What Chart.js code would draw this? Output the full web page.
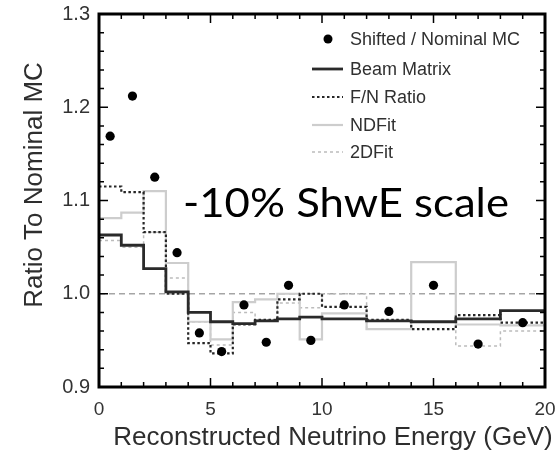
<!DOCTYPE html>
<html><head><meta charset="utf-8">
<script src="https://cdn.jsdelivr.net/npm/chart.js@4/dist/chart.umd.min.js"></script>
<style>html,body{margin:0;padding:0;background:#fff}#wrap{width:560px;height:452px}</style>
</head><body><div id="wrap"><canvas id="c" width="560" height="452"></canvas></div>
<script>
// ---- data ----
const binEdges = [0,1,2,3,4,5,6,7,8,9,10,12,14,16,18,20];
const pointEnergies = [0.5,1.5,2.5,3.5,4.5,5.5,6.5,7.5,8.5,9.5,11,13,15,17,19];
const shiftedOverNominal = [1.169,1.212,1.125,1.044,0.958,0.938,0.988,0.948,1.009,0.950,0.988,0.981,1.009,0.946,0.969];
const beamMatrix = [1.063,1.052,1.027,1.002,0.980,0.970,0.968,0.971,0.973,0.975,0.973,0.971,0.970,0.973,0.982];
const fnRatio   = [1.115,1.109,1.066,1.000,0.947,0.936,0.967,0.972,0.994,1.000,0.986,0.972,0.962,0.977,0.969];
const ndFit     = [1.081,1.087,1.110,1.033,0.970,0.951,0.991,0.994,1.000,0.951,0.979,0.962,1.034,0.967,0.966];
const twoDFit   = [1.057,1.050,1.066,1.017,0.970,0.945,0.980,0.972,0.990,0.985,1.000,0.962,0.970,0.944,0.960];
const refLevel = 1.0;
const seriesNames = ["Shifted / Nominal MC","Beam Matrix","F/N Ratio","NDFit","2DFit"];
const xTitle = "Reconstructed Neutrino Energy (GeV)";
const yTitle = "Ratio To Nominal MC";
const annotationText = "-10% ShwE scale";

const FONT = "'Liberation Sans', Arial, Helvetica, sans-serif";

function stepData(vals){
  const pts = vals.map((v,i)=>({x:binEdges[i], y:v}));
  pts.push({x:binEdges[binEdges.length-1], y:vals[vals.length-1]});
  return pts;
}

const styles = {
  beam: {color:'#2a2a2a', width:2.8, dash:[]},
  fn:   {color:'#262626', width:2.2, dash:[2.5,2.5]},
  nd:   {color:'#cdcdcd', width:2.2, dash:[]},
  two:  {color:'#bcbcbc', width:1.5, dash:[3,3]},
  ref:  {color:'#a5a5a5', width:1.5, dash:[6,4]}
};

function lineDs(label, vals, st, order){
  return {label, data: stepData(vals), showLine:true, stepped:true, pointRadius:0,
    borderColor:st.color, borderWidth:st.width, borderDash:st.dash, backgroundColor:'transparent',
    fill:false, order};
}

const framePlugin = {
  id:'frame',
  afterDraw(chart){
    const {ctx, chartArea:a, scales:{x, y}} = chart;
    ctx.save();
    // inside ticks
    ctx.strokeStyle = '#000'; ctx.lineWidth = 1.5; ctx.setLineDash([]);
    ctx.beginPath();
    for (let k=0;k<=20;k++){
      const px = x.getPixelForValue(k), len = (k%5===0)?9:5;
      ctx.moveTo(px, a.bottom); ctx.lineTo(px, a.bottom-len);
      ctx.moveTo(px, a.top); ctx.lineTo(px, a.top+len);
    }
    for (let k=0;k<=20;k++){
      const py = y.getPixelForValue(0.9 + k*0.02), len = (k%5===0)?9:5;
      ctx.moveTo(a.left, py); ctx.lineTo(a.left+len, py);
      ctx.moveTo(a.right, py); ctx.lineTo(a.right-len, py);
    }
    ctx.stroke();
    // frame
    ctx.lineWidth = 3;
    ctx.strokeRect(a.left, a.top, a.right-a.left, a.bottom-a.top);

    // legend
    const rows = [39, 69, 97, 125, 152];
    ctx.fillStyle = '#000';
    ctx.beginPath(); ctx.arc(328, rows[0], 4.5, 0, Math.PI*2); ctx.fill();
    const legStyles = [styles.beam, styles.fn, styles.nd, styles.two];
    legStyles.forEach((st,i)=>{
      ctx.strokeStyle = st.color; ctx.lineWidth = st.width; ctx.setLineDash(st.dash);
      ctx.beginPath(); ctx.moveTo(312, rows[i+1]); ctx.lineTo(343, rows[i+1]); ctx.stroke();
    });
    ctx.setLineDash([]);
    ctx.fillStyle = '#303030';
    ctx.font = `18px ${FONT}`;
    ctx.textBaseline = 'middle'; ctx.textAlign = 'left';
    seriesNames.forEach((n,i)=> ctx.fillText(n, 350, rows[i]+1));

    // annotation
    ctx.fillStyle = '#000';
    ctx.font = `40px Lato, 'Open Sans', sans-serif`;
    ctx.textBaseline = 'alphabetic';
    const w = ctx.measureText(annotationText).width;
    const sx = 326 / w;
    ctx.save(); ctx.translate(183, 217); ctx.scale(sx, 1);
    ctx.fillText(annotationText, 0, 0); ctx.restore();

    // axis titles
    ctx.fillStyle = '#2e2e2e';
    ctx.font = `26px ${FONT}`;
    ctx.textAlign = 'center'; ctx.textBaseline = 'alphabetic';
    ctx.fillText(xTitle, 333, 445);
    ctx.save(); ctx.translate(41.5, 185); ctx.rotate(-Math.PI/2);
    ctx.fillText(yTitle, 0, 0); ctx.restore();
    ctx.restore();
  }
};

new Chart(document.getElementById('c'), {
  type:'scatter',
  data:{datasets:[
    {label:seriesNames[0], data: pointEnergies.map((e,i)=>({x:e, y:shiftedOverNominal[i]})),
     pointRadius:4.6, pointBackgroundColor:'#000', pointBorderWidth:0, showLine:false, order:0},
    lineDs(seriesNames[1], beamMatrix, styles.beam, 1),
    lineDs(seriesNames[2], fnRatio, styles.fn, 2),
    lineDs(seriesNames[3], ndFit, styles.nd, 3),
    lineDs(seriesNames[4], twoDFit, styles.two, 4),
    {label:'ref', data:[{x:binEdges[0], y:refLevel},{x:binEdges[binEdges.length-1], y:refLevel}],
     showLine:true, pointRadius:0, borderColor:styles.ref.color, borderWidth:styles.ref.width,
     borderDash:styles.ref.dash, order:5}
  ]},
  options:{
    responsive:false, animation:false, devicePixelRatio:1,
    layout:{padding:{left:0, top:14, right:15, bottom:0}},
    plugins:{legend:{display:false}, tooltip:{enabled:false}},
    scales:{
      x:{type:'linear', min:0, max:20,
         ticks:{stepSize:5, autoSkip:false, maxRotation:0, padding:11, color:'#333',
                font:{family:FONT, size:19}},
         grid:{display:false, drawTicks:false}, border:{display:false},
         afterFit(s){ s.height = 65; s.paddingLeft = 0; s.paddingRight = 0; }},
      y:{type:'linear', min:0.9, max:1.3,
         ticks:{stepSize:0.1, padding:9, color:'#333', font:{family:FONT, size:20},
                callback:v=>Number(v).toFixed(1)},
         grid:{display:false, drawTicks:false}, border:{display:false},
         afterFit(s){ s.width = 99; s.paddingTop = 0; s.paddingBottom = 0; }}
    }
  },
  plugins:[framePlugin]
});
</script>
</body></html>
